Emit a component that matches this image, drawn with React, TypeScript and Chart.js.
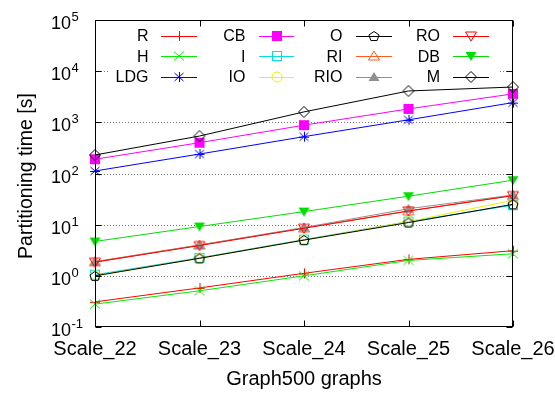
import React, { useEffect, useRef } from 'react';
import { Chart, registerables } from 'chart.js';

Chart.register(...registerables);

// ---------- data ----------
const categories = ['Scale_22', 'Scale_23', 'Scale_24', 'Scale_25', 'Scale_26'];
const yExponents = [-1, 0, 1, 2, 3, 4, 5];

const R = [0.31, 0.58, 1.12, 2.1, 3.1];
const H = [0.28, 0.51, 1.0, 2.0, 2.7];
const LDG = [112, 240, 525, 1120, 2430];
const CB = [190, 400, 880, 1830, 3600];
const I = [1.05, 2.25, 5.1, 11.5, 24];
const IO = [1.0, 2.2, 5.0, 11.5, 30];
const O = [1.0, 2.2, 5.0, 11, 25];
const RI = [1.9, 4.0, 8.6, 18.5, 37];
const RIO = [1.85, 4.0, 8.8, 20.5, 38];
const RO = [1.85, 3.9, 8.5, 18.5, 37];
const DB = [4.7, 9.2, 18, 36, 74];
const M = [230, 540, 1600, 4100, 4900];

const xTitle = 'Graph500 graphs';
const yTitle = 'Partitioning time [s]';

type Shape =
  | 'plus' | 'x' | 'star' | 'squareFilled' | 'square' | 'circle' | 'pentagon'
  | 'triUp' | 'triUpFilled' | 'triDown' | 'triDownFilled' | 'diamond';

const series: { label: string; data: number[]; color: string; shape: Shape }[] = [
  { label: 'R', data: R, color: '#ff0000', shape: 'plus' },
  { label: 'H', data: H, color: '#00ee00', shape: 'x' },
  { label: 'LDG', data: LDG, color: '#0000ff', shape: 'star' },
  { label: 'CB', data: CB, color: '#ff00ff', shape: 'squareFilled' },
  { label: 'I', data: I, color: '#00e0e0', shape: 'square' },
  { label: 'IO', data: IO, color: '#f0f000', shape: 'circle' },
  { label: 'O', data: O, color: '#000000', shape: 'pentagon' },
  { label: 'RI', data: RI, color: '#ff5a20', shape: 'triUp' },
  { label: 'RIO', data: RIO, color: '#909090', shape: 'triUpFilled' },
  { label: 'RO', data: RO, color: '#ff0000', shape: 'triDown' },
  { label: 'DB', data: DB, color: '#00e000', shape: 'triDownFilled' },
  { label: 'M', data: M, color: '#000000', shape: 'diamond' },
];

const FONT = "'Liberation Sans', Arial, Helvetica, sans-serif";

function makeMarker(shape: Shape, color: string): HTMLCanvasElement {
  const size = 18;
  const c = 9;
  const cv = document.createElement('canvas');
  cv.width = size;
  cv.height = size;
  const ctx = cv.getContext('2d')!;
  ctx.strokeStyle = color;
  ctx.fillStyle = color;
  ctx.lineWidth = 1;
  ctx.beginPath();
  const poly = (pts: number[][]) => {
    ctx.moveTo(pts[0][0], pts[0][1]);
    for (let k = 1; k < pts.length; k++) ctx.lineTo(pts[k][0], pts[k][1]);
    ctx.closePath();
  };
  switch (shape) {
    case 'plus':
      ctx.moveTo(c - 5, c + 0.5); ctx.lineTo(c + 5, c + 0.5);
      ctx.moveTo(c + 0.5, c - 5); ctx.lineTo(c + 0.5, c + 5);
      ctx.stroke();
      break;
    case 'x':
      ctx.moveTo(c - 5, c - 4.5); ctx.lineTo(c + 5, c + 4.5);
      ctx.moveTo(c - 5, c + 4.5); ctx.lineTo(c + 5, c - 4.5);
      ctx.stroke();
      break;
    case 'star':
      ctx.moveTo(c - 5, c + 0.5); ctx.lineTo(c + 5, c + 0.5);
      ctx.moveTo(c + 0.5, c - 5); ctx.lineTo(c + 0.5, c + 5);
      ctx.moveTo(c - 4.5, c - 4); ctx.lineTo(c + 4.5, c + 4);
      ctx.moveTo(c - 4.5, c + 4); ctx.lineTo(c + 4.5, c - 4);
      ctx.stroke();
      break;
    case 'squareFilled':
      ctx.fillRect(c - 5, c - 5, 10, 10);
      break;
    case 'square':
      ctx.strokeRect(c - 4.5, c - 4.5, 9, 9);
      break;
    case 'circle':
      ctx.arc(c, c, 5, 0, Math.PI * 2);
      ctx.stroke();
      break;
    case 'pentagon': {
      const pts: number[][] = [];
      for (let k = 0; k < 5; k++) {
        const a = -Math.PI / 2 + (k * 2 * Math.PI) / 5;
        pts.push([c + 5.3 * Math.cos(a), c + 0.5 + 5.0 * Math.sin(a)]);
      }
      poly(pts);
      ctx.stroke();
      break;
    }
    case 'triUp':
    case 'triUpFilled':
      poly([[c, c - 5], [c + 5.5, c + 4], [c - 5.5, c + 4]]);
      if (shape === 'triUpFilled') ctx.fill(); else ctx.stroke();
      break;
    case 'triDown':
    case 'triDownFilled':
      poly([[c, c + 5], [c + 5.5, c - 4], [c - 5.5, c - 4]]);
      if (shape === 'triDownFilled') ctx.fill(); else ctx.stroke();
      break;
    case 'diamond':
      poly([[c, c - 5.5], [c + 5.5, c], [c, c + 5.5], [c - 5.5, c]]);
      ctx.stroke();
      break;
  }
  return cv;
}

const legendCols = [
  { textRight: 148.5, x1: 161, x2: 197 },
  { textRight: 245.5, x1: 259, x2: 294 },
  { textRight: 342.5, x1: 356, x2: 392 },
  { textRight: 440, x1: 453, x2: 489 },
];
const legendRows = [35.5, 56, 76.5];

export default function App() {
  const canvasRef = useRef<HTMLCanvasElement | null>(null);

  useEffect(() => {
    const canvas = canvasRef.current;
    if (!canvas) return;
    const markers = series.map((s) => makeMarker(s.shape, s.color));
    const N = series.length;

    const framePlugin = {
      id: 'gnuplotFrame',
      beforeDraw(chart: any) {
        const ctx = chart.ctx as CanvasRenderingContext2D;
        ctx.save();
        ctx.fillStyle = '#ffffff';
        ctx.fillRect(0, 0, chart.width, chart.height);
        ctx.restore();
      },
      beforeDatasetsDraw(chart: any) {
        const ctx = chart.ctx as CanvasRenderingContext2D;
        const { left, right } = chart.chartArea;
        const ys = chart.scales.y;
        ctx.save();
        // grid
        ctx.strokeStyle = '#777777';
        ctx.lineWidth = 1;
        ctx.setLineDash([1, 2]);
        yExponents.slice(1, -1).forEach((e) => {
          const y = Math.round(ys.getPixelForValue(Math.pow(10, e))) + 0.5;
          ctx.beginPath();
          ctx.moveTo(left, y);
          ctx.lineTo(right, y);
          ctx.stroke();
        });
        ctx.setLineDash([]);
        // legend box
        ctx.fillStyle = '#ffffff';
        ctx.fillRect(110, 22, 390, 66);
        // legend entries
        ctx.font = `16px ${FONT}`;
        ctx.textAlign = 'right';
        ctx.textBaseline = 'alphabetic';
        series.forEach((s, i) => {
          const col = legendCols[Math.floor(i / 3)];
          const y = legendRows[i % 3];
          ctx.fillStyle = '#000000';
          ctx.fillText(s.label, col.textRight, y + 5.7);
          ctx.strokeStyle = s.color;
          ctx.lineWidth = 1;
          ctx.beginPath();
          ctx.moveTo(col.x1, Math.round(y) + 0.5);
          ctx.lineTo(col.x2, Math.round(y) + 0.5);
          ctx.stroke();
          const m = markers[i];
          ctx.drawImage(m, Math.round((col.x1 + col.x2) / 2) - m.width / 2, Math.round(y) - m.height / 2);
        });
        ctx.restore();
      },
      afterDatasetsDraw(chart: any) {
        const ctx = chart.ctx as CanvasRenderingContext2D;
        const { left, right, top, bottom } = chart.chartArea;
        const xs = chart.scales.x;
        const ys = chart.scales.y;
        const L = Math.round(left) + 0.5;
        const Rr = Math.round(right) - 0.5;
        const T = Math.round(top) + 0.5;
        const B = Math.round(bottom) - 0.5;
        ctx.save();
        ctx.strokeStyle = '#000000';
        ctx.lineWidth = 1;
        ctx.strokeRect(L, T, Rr - L, B - T);
        // ticks
        ctx.beginPath();
        yExponents.forEach((e) => {
          const y = Math.round(ys.getPixelForValue(Math.pow(10, e))) + 0.5;
          ctx.moveTo(L, y); ctx.lineTo(L + 6, y);
          ctx.moveTo(Rr, y); ctx.lineTo(Rr - 6, y);
        });
        categories.forEach((_, i) => {
          const x = Math.round(xs.getPixelForValue(i)) + 0.5;
          ctx.moveTo(x, B); ctx.lineTo(x, B - 6);
          ctx.moveTo(x, T); ctx.lineTo(x, T + 6);
        });
        ctx.stroke();
        // y tick labels
        ctx.fillStyle = '#000000';
        ctx.textAlign = 'left';
        ctx.textBaseline = 'alphabetic';
        yExponents.forEach((e) => {
          const y = ys.getPixelForValue(Math.pow(10, e));
          ctx.font = `18px ${FONT}`;
          ctx.fillText('10', 51, y + 9);
          const w = ctx.measureText('10').width;
          ctx.font = `13px ${FONT}`;
          ctx.fillText(String(e), 51 + w + 0.5, y + 1);
        });
        // x tick labels
        ctx.font = `20px ${FONT}`;
        ctx.textAlign = 'center';
        categories.forEach((c, i) => {
          const x = xs.getPixelForValue(i);
          ctx.fillText(c, x, 355);
        });
        // titles
        ctx.fillText(xTitle, (left + right) / 2, 385);
        ctx.font = `19.5px ${FONT}`;
        ctx.save();
        ctx.translate(32, 176);
        ctx.rotate(-Math.PI / 2);
        ctx.fillText(yTitle, 0, 0);
        ctx.restore();
        ctx.restore();
      },
    };

    const chart = new Chart(canvas, {
      type: 'line',
      data: {
        labels: categories,
        datasets: series.map((s, i) => ({
          label: s.label,
          data: s.data,
          borderColor: s.color,
          backgroundColor: s.color,
          borderWidth: 1,
          pointStyle: markers[i] as any,
          pointRadius: 5,
          pointHoverRadius: 5,
          tension: 0,
          fill: false,
          clip: false as any,
          order: N - 1 - i,
        })),
      },
      options: {
        responsive: false,
        animation: false,
        events: [],
        layout: { padding: { left: 95, right: 42, top: 20, bottom: 67 } },
        plugins: { legend: { display: false }, tooltip: { enabled: false } },
        scales: {
          x: { type: 'category', display: false, offset: false },
          y: { type: 'logarithmic', display: false, min: 0.1, max: 100000 },
        },
      },
      plugins: [framePlugin],
    });
    return () => chart.destroy();
  }, []);

  return (
    <div style={{ position: 'fixed', left: 0, top: 0, width: 555, height: 394, background: '#fff' }}>
      <canvas ref={canvasRef} width={555} height={394} style={{ display: 'block', width: 555, height: 394 }} />
    </div>
  );
}
